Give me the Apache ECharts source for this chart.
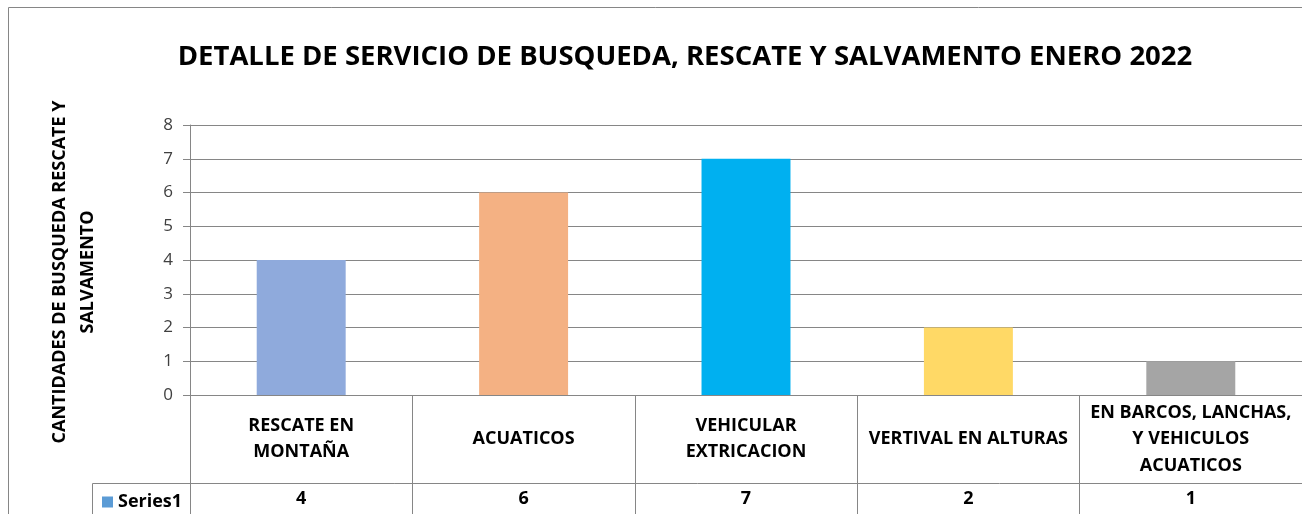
<!DOCTYPE html>
<html>
<head>
<meta charset="utf-8">
<script src="https://cdn.jsdelivr.net/npm/echarts@6/dist/echarts.min.js"></script>
<style>
  html, body { margin: 0; padding: 0; background: #fff; }
  #chart { width: 1302px; height: 514px; }
</style>
</head>
<body>
<div id="chart"></div>
<script>
// Detalle de servicio de busqueda, rescate y salvamento - enero 2022
const categories = [
  "RESCATE EN\nMONTAÑA",
  "ACUATICOS",
  "VEHICULAR\nEXTRICACION",
  "VERTIVAL EN ALTURAS",
  "EN BARCOS, LANCHAS,\nY VEHICULOS\nACUATICOS"
];
const values = [4, 6, 7, 2, 1];
const barColors = ["#8faadc", "#f4b183", "#00b0f0", "#ffd966", "#a5a5a5"];
const yTicks = [0, 8, 1]; // min, max, interval

const FONT = "Open Sans";
const LINE = "#868686";
const LBL = 18;

const chart = echarts.init(document.getElementById("chart"));

const option = {
  animation: false,
  textStyle: { fontFamily: FONT },
  title: {
    text: "DETALLE DE SERVICIO DE BUSQUEDA, RESCATE Y SALVAMENTO ENERO 2022",
    left: 680,
    textAlign: "center",
    top: 38,
    textStyle: { fontFamily: FONT, fontWeight: "bold", fontSize: 27.5, color: "#000" }
  },
  legend: {
    left: 97,
    top: 488,
    icon: "rect",
    itemWidth: 11,
    itemHeight: 11,
    itemGap: 6,
    textStyle: { fontFamily: FONT, fontWeight: "bold", fontSize: LBL, color: "#000" }
  },
  grid: { left: 190, right: 0, top: 125, bottom: 119, containLabel: false },
  xAxis: [
    {
      type: "category",
      data: categories,
      position: "bottom",
      axisLine: { show: true, lineStyle: { color: LINE, width: 1 } },
      axisTick: { show: true, length: 88, lineStyle: { color: LINE } },
      axisLabel: {
        interval: 0,
        margin: 44,
        verticalAlign: "middle",
        lineHeight: 26.5,
        fontFamily: FONT,
        fontWeight: "bold",
        fontSize: LBL,
        color: "#000"
      },
      splitLine: { show: false }
    },
    {
      // values row of the data table
      type: "category",
      data: values.map(String),
      position: "bottom",
      offset: 88,
      axisLine: { show: false },
      axisTick: { show: true, length: 40, lineStyle: { color: LINE } },
      axisLabel: {
        interval: 0,
        margin: 16,
        verticalAlign: "middle",
        fontFamily: FONT,
        fontWeight: "bold",
        fontSize: LBL,
        color: "#000"
      },
      splitLine: { show: false }
    }
  ],
  yAxis: {
    type: "value",
    min: yTicks[0],
    max: yTicks[1],
    interval: yTicks[2],
    name: "CANTIDADES DE BUSQUEDA RESCATE Y\nSALVAMENTO",
    nameLocation: "middle",
    nameRotate: 90,
    nameGap: 88,
    nameTextStyle: {
      fontFamily: FONT,
      fontWeight: "bold",
      fontSize: LBL,
      color: "#000",
      lineHeight: 28,
      padding: [0, 24, 0, 0]
    },
    axisLine: { show: true, lineStyle: { color: LINE } },
    axisTick: { show: true, length: 7, lineStyle: { color: LINE } },
    axisLabel: { margin: 17, fontFamily: FONT, fontSize: 17, color: "#404040" },
    splitLine: { show: true, lineStyle: { color: LINE, width: 1 } }
  },
  series: [
    {
      name: "Series1",
      type: "bar",
      xAxisIndex: 0,
      barWidth: "40%",
      itemStyle: { color: "#5b9bd5" },
      data: values.map((v, i) => ({ value: v, itemStyle: { color: barColors[i] } }))
    }
  ],
  graphic: [
    // chart frame
    { type: "line", shape: { x1: 8.5, y1: 7.5, x2: 1302, y2: 7.5 }, style: { stroke: LINE, lineWidth: 1 } },
    { type: "line", shape: { x1: 8.5, y1: 7.5, x2: 8.5, y2: 514 }, style: { stroke: LINE, lineWidth: 1 } },
    // data table: top of values row and legend cell
    { type: "line", shape: { x1: 92.5, y1: 483.5, x2: 1302, y2: 483.5 }, style: { stroke: LINE, lineWidth: 1 } },
    { type: "line", shape: { x1: 92.5, y1: 483.5, x2: 92.5, y2: 514 }, style: { stroke: LINE, lineWidth: 1 } }
  ]
};

chart.setOption(option);
</script>
</body>
</html>
